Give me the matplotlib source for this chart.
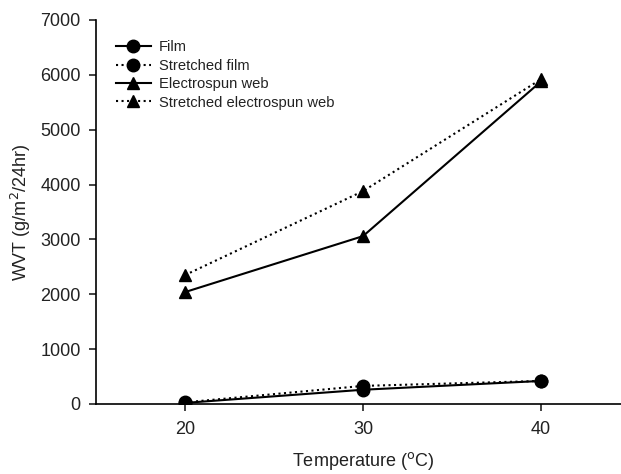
import matplotlib
matplotlib.use("Agg")
import matplotlib.pyplot as plt

plt.rcParams['font.family'] = ['Liberation Sans', 'DejaVu Sans']

temps = [20, 30, 40]
film = [20, 260, 420]
stretched_film = [30, 330, 420]
web = [2040, 3060, 5880]
stretched_web = [2350, 3880, 5920]

fig = plt.figure(figsize=(6.21, 4.74), dpi=100)
ax = fig.add_axes([96/621, 1 - 404/474, (630 - 96)/621, (404 - 20)/474])

ms = 9
lw = 1.5
ax.plot(temps, film, '-', color='black', marker='o', ms=ms, lw=lw, label='Film')
ax.plot(temps, stretched_film, ':', color='black', marker='o', ms=ms, lw=lw, label='Stretched film')
ax.plot(temps, web, '-', color='black', marker='^', ms=ms, lw=lw, label='Electrospun web')
ax.plot(temps, stretched_web, ':', color='black', marker='^', ms=ms, lw=lw, label='Stretched electrospun web')

ax.set_xlim(15, 45)
ax.set_ylim(0, 7000)
ax.set_xticks([20, 30, 40])
ax.set_yticks(range(0, 7001, 1000))
ax.spines['top'].set_visible(False)
ax.spines['right'].set_visible(False)
for s in ('left', 'bottom'):
    ax.spines[s].set_linewidth(1.2)
ax.tick_params(direction='out', length=5, labelsize=13, width=1.2, colors='#222222')
ax.tick_params(axis='x', pad=7)
ax.tick_params(axis='y', pad=6)
ax.set_xlabel('Temperature ($^{\\mathrm{o}}$C)', fontsize=13, labelpad=9, color='#222222')
ax.set_ylabel('WVT (g/m$^{\\mathrm{2}}$/24hr)', fontsize=13, labelpad=5, color='#222222')

ax.legend(loc='upper left', bbox_to_anchor=(0.02, 0.97), frameon=False, fontsize=10.6,
          handlelength=2.4, labelspacing=0.3, handletextpad=0.55, borderaxespad=0.2,
          labelcolor='#222222')

fig.savefig('out.png', dpi=100)
